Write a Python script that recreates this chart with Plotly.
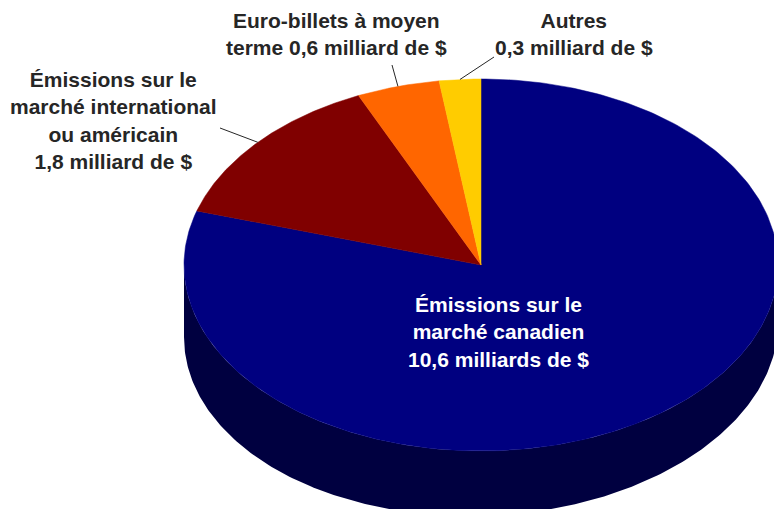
import numpy as np
import plotly.graph_objects as go

# ---- data ----
categories = [
    "Émissions sur le marché canadien",
    "Émissions sur le marché international ou américain",
    "Euro-billets à moyen terme",
    "Autres",
]
values = [10.6, 1.8, 0.6, 0.3]
label_texts = [
    "Émissions sur le<br>marché canadien<br>10,6 milliards de $",
    "Émissions sur le<br>marché international<br>ou américain<br>1,8 milliard de $",
    "Euro-billets à moyen<br>terme 0,6 milliard de $",
    "Autres<br>0,3 milliard de $",
]

# ---- styles / layout geometry (pixel space) ----
W, H = 774, 509
CX, CY, RX, RY = 481, 265, 297, 186
DEPTH_MID, DEPTH_TILT = 65, 7   # side is a bit deeper on the left (perspective)
top_colors = ["#000080", "#800000", "#FF6600", "#FFCC00"]
side_colors = ["#000040", "#400000", "#803300", "#806600"]
label_pos = [(498, 332), (113, 120), (336, 34), (574, 34)]
label_colors = ["white", "#262626", "#262626", "#262626"]
leader_out = [None, (220, 128), (392, 65), (494, 57)]


def ell(theta_deg, bottom=False):
    t = np.radians(theta_deg)
    x = CX + RX * np.sin(t)
    y = CY - RY * np.cos(t)
    if bottom:
        y = y + DEPTH_MID - DEPTH_TILT * np.sin(t)
    return x, y


fig = go.Figure()

total = sum(values)
angles = np.cumsum([0] + [v / total * 360 for v in values])

# side walls (front half only: 90..270 degrees clockwise from top)
for i in range(len(values)):
    a, b = max(angles[i], 90), min(angles[i + 1], 270)
    if a >= b:
        continue
    th = np.linspace(a, b, 240)
    xt, yt = ell(th)
    xb, yb = ell(th[::-1], bottom=True)
    fig.add_trace(go.Scatter(
        x=np.concatenate([xt, xb]), y=np.concatenate([yt, yb]),
        fill="toself", fillcolor=side_colors[i], mode="lines",
        line=dict(width=0, color=side_colors[i]), hoverinfo="skip"))

# top faces
for i in range(len(values)):
    th = np.linspace(angles[i], angles[i + 1], 300)
    xs, ys = ell(th)
    fig.add_trace(go.Scatter(
        x=np.concatenate([[CX], xs, [CX]]), y=np.concatenate([[CY], ys, [CY]]),
        fill="toself", fillcolor=top_colors[i], mode="lines",
        line=dict(width=0.5, color=top_colors[i]), name=categories[i],
        hoverinfo="name"))

# leader lines
for i in range(len(values)):
    if leader_out[i] is None:
        continue
    mid = (angles[i] + angles[i + 1]) / 2
    px, py = ell(mid)
    ox, oy = leader_out[i]
    fig.add_trace(go.Scatter(x=[px, ox], y=[py, oy], mode="lines",
                             line=dict(color="#262626", width=1), hoverinfo="skip"))

# labels
for i in range(len(values)):
    fig.add_annotation(x=label_pos[i][0], y=label_pos[i][1], xref="x", yref="y",
                       text="<b>" + label_texts[i] + "</b>", showarrow=False,
                       xanchor="center", yanchor="middle", align="center",
                       font=dict(family="Liberation Sans, Arial, sans-serif",
                                 size=21, color=label_colors[i]))

fig.update_layout(
    width=W, height=H, margin=dict(l=0, r=0, t=0, b=0),
    paper_bgcolor="white", plot_bgcolor="white", showlegend=False,
    xaxis=dict(range=[0, W], visible=False, fixedrange=True),
    yaxis=dict(range=[H, 0], visible=False, fixedrange=True),
)

fig.write_html(
    "out.html",
    config={"displayModeBar": False},
    post_script="document.body.style.margin='0';document.body.style.overflow='hidden';",
)
